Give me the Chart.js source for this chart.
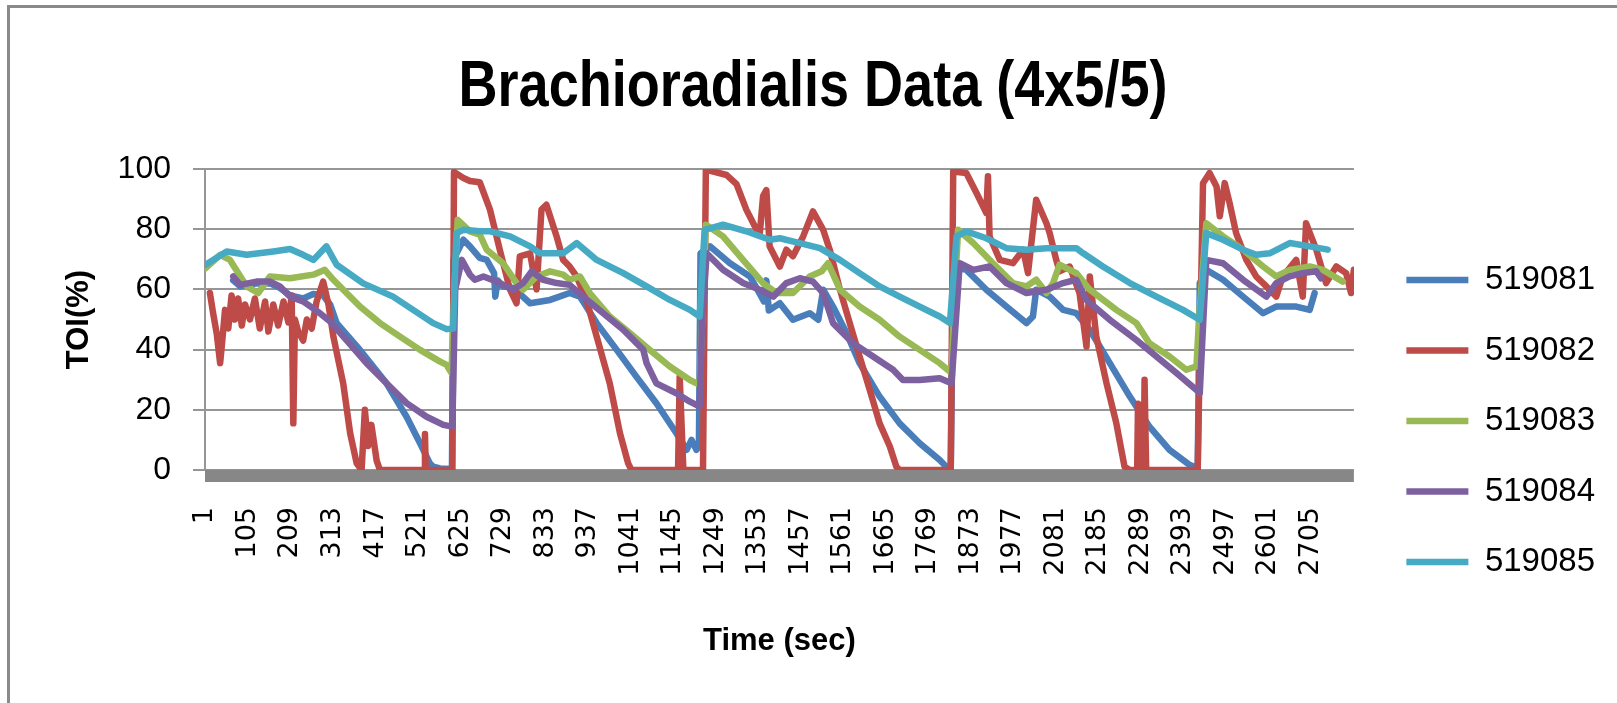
<!DOCTYPE html>
<html>
<head>
<meta charset="utf-8">
<title>Brachioradialis Data (4x5/5)</title>
<script src="https://cdn.jsdelivr.net/npm/chart.js@4.4.1/dist/chart.umd.min.js"></script>
<style>
  html, body { margin: 0; padding: 0; background: #fff; overflow: hidden; }
  #wrap { position: relative; width: 1617px; height: 703px; }
  #wrap canvas { position: absolute; left: 0; top: 0; }
  /* outer chart frame, runs off the right and bottom edges */
  #frame { position: absolute; left: 7px; top: 5px; right: -20px; bottom: -20px;
           border: 3px solid #8a8a8a; pointer-events: none; }
</style>
</head>
<body>
<div id="wrap">
  <canvas id="chart" width="1617" height="703"></canvas>
  <div id="frame"></div>
</div>
<script>
const seriesNames = ['519081', '519082', '519083', '519084', '519085'];
const seriesColors = ['#4a7ebb', '#be4b48', '#98b954', '#7d60a0', '#46aac5'];

// x axis labels (sample number, every 104 s) and y axis labels
const timeTicks = [1, 105, 209, 313, 417, 521, 625, 729, 833, 937, 1041, 1145, 1249, 1353,
  1457, 1561, 1665, 1769, 1873, 1977, 2081, 2185, 2289, 2393, 2497, 2601, 2705];
const toiTicks = [0, 20, 40, 60, 80, 100];

// 519081
const time519081 = [69, 86, 126, 159, 183, 208, 240, 265, 289, 306, 322, 379, 444, 493, 526, 550, 558, 575, 604,
  608, 632, 648, 672, 689, 707, 710, 716, 729, 754, 795, 844, 892, 917, 958, 1007, 1055, 1104, 1153, 1178, 1190,
  1202, 1208, 1212, 1235, 1284, 1333, 1357, 1367, 1373, 1379, 1406, 1438, 1479, 1500, 1512, 1536, 1569, 1601, 1650,
  1699, 1748, 1797, 1813, 1824, 1830, 1862, 1911, 1960, 2009, 2025, 2033, 2066, 2099, 2131, 2164, 2213, 2262, 2310,
  2359, 2408, 2428, 2433, 2449, 2490, 2539, 2588, 2620, 2669, 2702, 2714];
const toi519081 = [63, 61, 62, 62, 60.5, 58, 57, 58.5, 58, 55, 48.8, 39.9, 28.8, 17.7, 8.9, 2.2, 1.1, 0.5, 0.3,
  70, 76.5, 74.3, 70.5, 69.8, 65.4, 57.6, 63, 61, 60.5, 55.4, 56.5, 58.8, 57.6, 48.8, 39.9, 31, 22.2, 12.2, 6.7, 10,
  6.7, 8, 72, 74.3, 68.7, 64.3, 58.5, 56, 63, 53, 55.4, 49.9, 52.1, 49.9, 59.9, 54.3, 45.5, 35.5, 24.4,
  15.5, 8.9, 3.3, 1.1, 0.5, 67.6, 66.5, 59.9, 54.3, 48.8, 51, 59.9, 57.6, 53.2, 52.1, 46.6, 35.5, 24.4, 14.4,
  6.7, 1.7, 0.6, 62.1, 66.5, 63.2, 57.6, 52.1, 54.3, 54.3, 53.2, 58.8];

// 519082
const time519082 = [12, 20, 29, 37, 43, 49, 57, 65, 73, 81, 90, 98, 110, 122, 134, 147, 155, 167, 179, 192, 204,
  212, 216, 220, 228, 240, 249, 261, 273, 289, 302, 314, 338, 355, 371, 383, 391, 399, 407, 420, 428, 536, 538, 540,
  605, 609, 632, 648, 672, 697, 721, 746, 762, 770, 795, 811, 823, 835, 860, 876, 892, 909, 933, 958, 990, 1015,
  1035, 1043, 1157, 1161, 1170, 1218, 1225, 1276, 1300, 1324, 1349, 1357, 1365, 1373, 1381, 1406, 1422, 1438, 1463,
  1487, 1512, 1528, 1553, 1577, 1601, 1626, 1650, 1675, 1691, 1699, 1824, 1830, 1862, 1887, 1911, 1915, 1919, 1944,
  1976, 2001, 2013, 2033, 2058, 2066, 2082, 2090, 2115, 2139, 2156, 2164, 2180, 2205, 2229, 2249, 2262, 2280, 2282,
  2286, 2296, 2298, 2302, 2428, 2441, 2457, 2474, 2482, 2494, 2506, 2522, 2547, 2571, 2596, 2620, 2636, 2669, 2685,
  2693, 2718, 2742, 2767, 2791, 2803, 2810];
const toi519082 = [58.8, 52, 45, 35.5, 44, 53.2, 47, 58, 50, 57, 48, 55, 50, 57, 47, 56, 46, 55, 48, 56, 49,
  58, 15.5, 50, 46, 43, 50, 47, 56, 62.6, 55, 44.3, 28.8, 12.2, 2.2, 0, 20, 8, 15, 3, 0, 0, 12, 0,
  0, 99, 97, 96, 95.6, 86.5, 73.2, 59.9, 55.4, 71, 72, 60, 86.5, 88.1, 77.6, 69.8, 67.6, 64.3, 56.5, 44.3, 28.8, 12.2,
  2.2, 0, 0, 31, 0, 0, 99.8, 98, 95, 86.5, 79.8, 78.7, 91, 93, 74.3, 67.6, 73.2, 71, 77.6,
  85.9, 79.8, 73.2, 59.9, 48.8, 37.7, 26.6, 15.5, 7.8, 1.1, 0, 0, 99.2, 98.7, 92, 85.4, 97.6, 77.6, 69.8,
  68.7, 73.2, 65.4, 89.8, 82, 78.7, 69.8, 66, 67.6, 58.8, 41, 64.3, 44.3, 28.8, 15.5, 1.1, 0, 0, 22,
  0, 0, 30, 0, 0, 95.3, 98.7, 94.2, 84.3, 95.3, 88.7, 78.7, 69.8, 64.3, 61, 57.6, 64.3, 69.8, 57.6,
  82, 73.2, 62.1, 67.6, 65.4, 58.8, 66.5];

// 519083
const time519083 = [1, 37, 61, 102, 130, 159, 208, 265, 293, 314, 379, 428, 477, 526, 575, 591, 603, 610, 618,
  648, 672, 689, 729, 762, 778, 811, 844, 876, 892, 917, 941, 990, 1039, 1088, 1137, 1186, 1210, 1216, 1225, 1267,
  1316, 1365, 1398, 1438, 1479, 1508, 1524, 1553, 1601, 1650, 1699, 1748, 1797, 1826, 1834, 1842, 1879, 1927, 1976,
  2009, 2033, 2058, 2074, 2090, 2131, 2164, 2229, 2278, 2310, 2359, 2400, 2425, 2431, 2449, 2490, 2539, 2588, 2620,
  2653, 2702, 2734, 2783];
const toi519083 = [67, 71.5, 69.8, 61, 58.8, 64.3, 63.7, 64.9, 66.5, 63.2, 54.3, 48.8, 44.3, 39.9, 36, 34.9, 32.2, 60, 83.1,
  79.3, 78.2, 73.2, 68.7, 62.1, 59.9, 64.3, 66, 64.9, 63.2, 64.3, 58.8, 51, 45.5, 39.9, 34.4, 29.9, 28.3, 50, 81.5, 77.6,
  69.8, 62.1, 58.8, 58.8, 64.3, 66, 68.7, 59.9, 54.3, 49.9, 44.3, 39.9, 35.5, 32.2, 60, 79.8, 75.4, 68.7, 62.1,
  61, 63.2, 58.8, 62, 68.2, 65.4, 59.9, 53.2, 48.8, 42.1, 37.7, 33.3, 34.4, 50, 82, 77.6, 73.2, 67.6, 64.3,
  66.5, 67.6, 66.5, 62.6];

// 519084
const time519084 = [69, 86, 126, 159, 183, 208, 240, 281, 306, 346, 395, 444, 493, 542, 583, 605, 612, 628, 648,
  660, 681, 713, 754, 778, 799, 827, 860, 892, 925, 974, 1023, 1072, 1080, 1104, 1153, 1186, 1210, 1216, 1227, 1267,
  1316, 1357, 1390, 1422, 1455, 1487, 1512, 1536, 1585, 1634, 1683, 1707, 1748, 1797, 1826, 1846, 1879, 1919, 1960,
  2009, 2058, 2099, 2131, 2156, 2213, 2278, 2327, 2376, 2425, 2433, 2449, 2490, 2539, 2596, 2620, 2653, 2685, 2718,
  2730];
const toi519084 = [64.3, 61.5, 62.6, 62.6, 61, 57.6, 56, 52.1, 49.3, 43.2, 35.5, 28.8, 22.2, 17.7, 15, 14.4, 60, 69.8, 64.9,
  63.2, 64.3, 62.6, 59.9, 62.1, 66, 63.2, 62.1, 61.5, 57.6, 52.1, 46.6, 39.9, 35.5, 28.8, 25.5, 22.7, 21.1, 50, 72, 66.5,
  62.1, 59.9, 57.6, 62.1, 63.7, 62.6, 58.8, 48.8, 42.1, 37.7, 33.3, 29.9, 29.9, 30.5, 28.8, 68.7, 66.5, 67.6, 62.1,
  58.8, 59.9, 62.1, 63.2, 56.5, 49.9, 43.2, 37.7, 32.2, 26.6, 25.5, 69.8, 68.7, 63.2, 57.6, 62.1, 64.3, 65.4, 66,
  63.7];

// 519085
const time519085 = [1, 53, 102, 167, 208, 240, 265, 297, 322, 387, 460, 509, 558, 591, 607, 615, 632, 672, 697,
  746, 795, 819, 876, 909, 958, 1023, 1080, 1137, 1186, 1210, 1222, 1267, 1324, 1381, 1406, 1455, 1504, 1553, 1601,
  1650, 1699, 1748, 1797, 1822, 1838, 1862, 1911, 1960, 2009, 2058, 2131, 2148, 2196, 2262, 2327, 2392, 2433, 2449,
  2490, 2539, 2571, 2604, 2653, 2702, 2746];
const toi519085 = [68.2, 72.6, 71.5, 72.6, 73.4, 71.5, 69.8, 74.3, 68.2, 62, 57.6, 53.2, 48.8, 46.8, 47, 78.7, 79.8, 79.3, 79.3,
  77.6, 74.3, 72, 72, 75.4, 69.8, 65.4, 61, 56.5, 53.2, 51, 79.8, 81.5, 79.3, 76.5, 77, 75.4, 73.7, 69.8, 65.4,
  61, 57.6, 54.3, 51, 48.8, 77.6, 79.3, 77, 73.7, 73.2, 73.7, 73.7, 72, 67.6, 62.1, 57.6, 53.2, 49.9, 78.7,
  76.5, 73.2, 71.5, 72, 75.4, 74.3, 73.2];

const seriesTimes = [time519081, time519082, time519083, time519084, time519085];
const seriesToi = [toi519081, toi519082, toi519083, toi519084, toi519085];

// thick grey floor under the zero line
const floorBar = {
  id: 'floorBar',
  beforeDatasetsDraw(chart) {
    const { ctx, chartArea: a } = chart;
    ctx.save();
    ctx.fillStyle = '#878787';
    ctx.fillRect(a.left, a.bottom, a.right - a.left, 12);
    ctx.restore();
  }
};

// narrow bold heading, squeezed to a fixed width
const chartHeading = {
  id: 'chartHeading',
  afterDraw(chart, args, opts) {
    const { ctx } = chart;
    ctx.save();
    ctx.font = 'bold 64px "Liberation Sans", Arial, sans-serif';
    ctx.fillStyle = '#000';
    ctx.textAlign = 'center';
    ctx.textBaseline = 'alphabetic';
    const w = ctx.measureText(opts.text).width;
    ctx.translate(opts.x, opts.y);
    ctx.scale(opts.width / w, 1);
    ctx.fillText(opts.text, 0, 0);
    ctx.restore();
  }
};

const data = {
  datasets: seriesNames.map((name, i) => ({
    label: name,
    data: seriesTimes[i].map((t, k) => ({ x: t, y: seriesToi[i][k] })),
    borderColor: seriesColors[i],
    backgroundColor: seriesColors[i],
    borderWidth: 6.5,
    borderCapStyle: 'round',
    borderJoinStyle: 'round',
    pointRadius: 0,
    tension: 0,
    order: seriesNames.length - i
  }))
};

const config = {
  type: 'line',
  data: data,
  plugins: [floorBar, chartHeading],
  options: {
    responsive: false,
    animation: false,
    layout: { padding: { top: 169, bottom: 30, left: 0, right: 12 } },
    scales: {
      x: {
        type: 'linear',
        min: 0,
        max: 2810,
        afterBuildTicks: s => { s.ticks = timeTicks.map(v => ({ value: v })); },
        afterFit: s => { s.height = 203; },
        grid: { display: false, drawTicks: false },
        border: { display: false },
        ticks: {
          autoSkip: false, minRotation: 90, maxRotation: 90, padding: 37, color: '#000',
          font: { family: 'DejaVu Sans', size: 27 },
          callback: v => String(v)
        },
        title: {
          display: true, text: 'Time (sec)', color: '#000',
          font: { family: 'Liberation Sans', size: 31, weight: 'bold' },
          padding: { top: 0, bottom: 13 }
        }
      },
      y: {
        min: 0,
        max: 100,
        afterBuildTicks: s => { s.ticks = toiTicks.map(v => ({ value: v })); },
        afterFit: s => { s.width = 205; },
        grid: { color: '#969696', lineWidth: 2, tickLength: 12 },
        border: { color: '#969696', width: 2 },
        ticks: { padding: 22, color: '#000', font: { family: 'Liberation Sans', size: 32 } },
        title: {
          display: true, text: 'TOI(%)', color: '#000',
          font: { family: 'Liberation Sans', size: 31, weight: 'bold' },
          padding: { top: 61, bottom: 0 }
        }
      },
      // empty spacer between the plot and the legend
      gap: {
        type: 'linear', axis: 'y', position: 'right',
        grid: { display: false }, border: { display: false }, ticks: { display: false },
        afterFit: s => { s.width = 15; }
      }
    },
    plugins: {
      chartHeading: { text: 'Brachioradialis Data (4x5/5)', x: 813, y: 106, width: 709 },
      title: { display: false },
      tooltip: { enabled: false },
      legend: {
        position: 'right',
        labels: {
          usePointStyle: true,
          pointStyle: 'line',
          pointStyleWidth: 62,
          padding: 37.5,
          color: '#000',
          font: { family: 'Liberation Sans', size: 33 },
          sort: (a, b) => a.datasetIndex - b.datasetIndex
        }
      }
    }
  }
};

const chart = new Chart(document.getElementById('chart'), config);
</script>
</body>
</html>
